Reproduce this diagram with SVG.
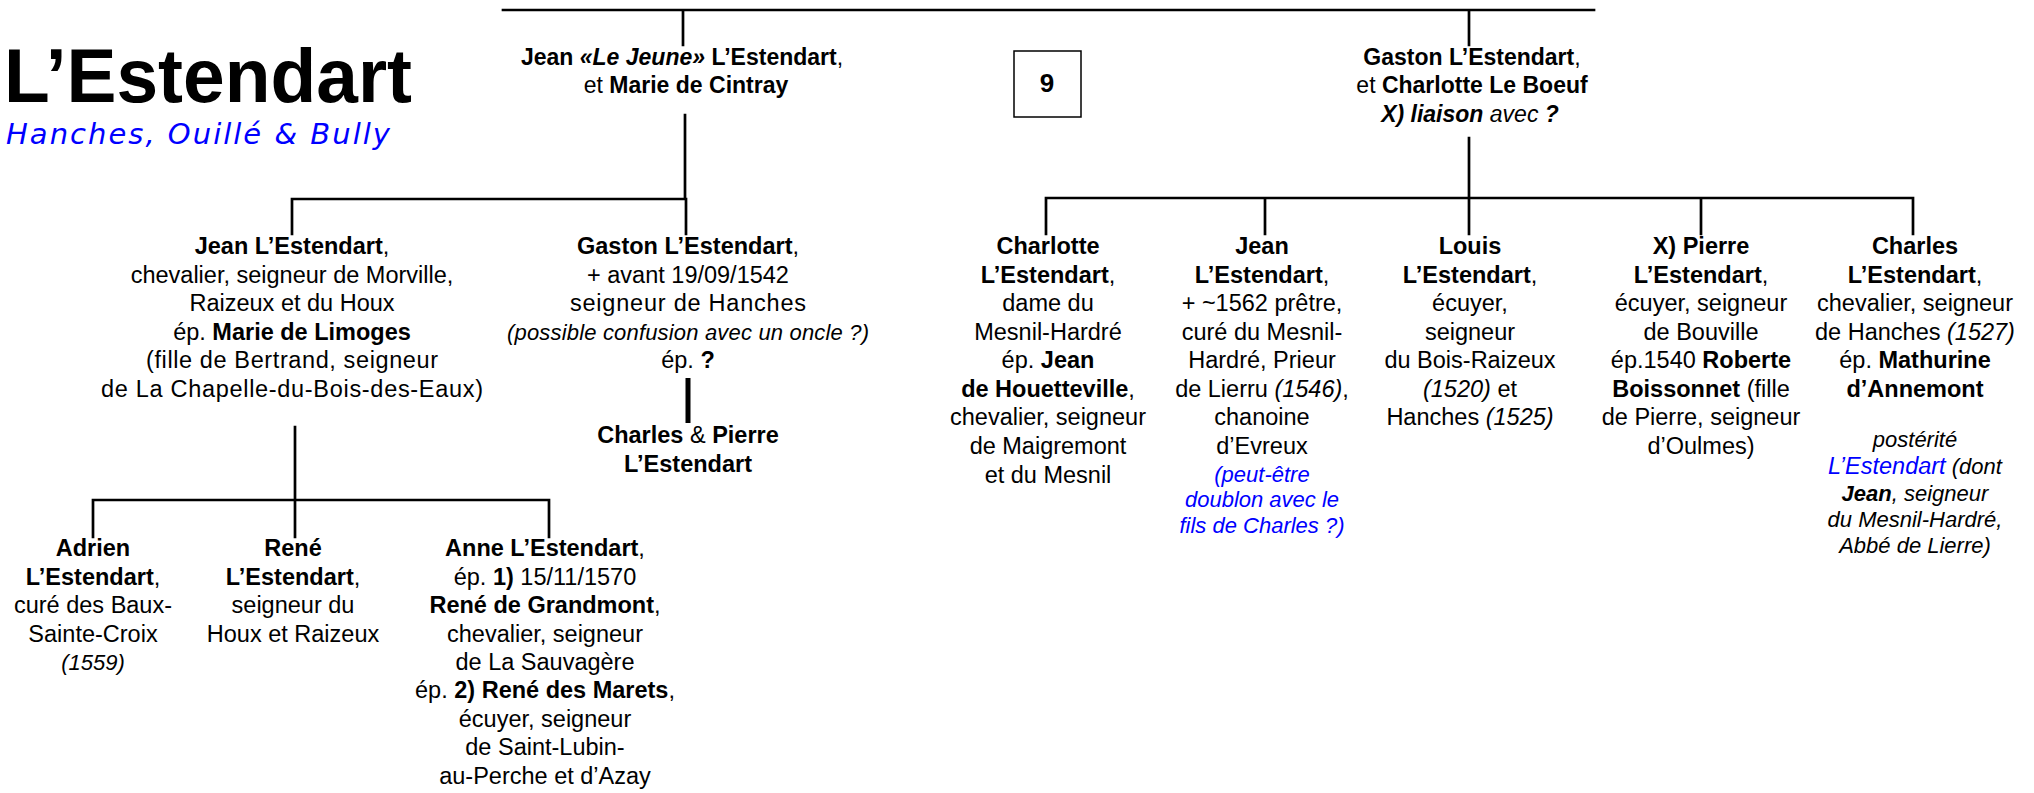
<svg xmlns="http://www.w3.org/2000/svg" width="2034" height="793" viewBox="0 0 2034 793">
<style>
text{font-family:"Liberation Sans",Arial,sans-serif;font-size:23.5px;fill:#000;text-anchor:middle}
.top{font-size:23px}
.b{font-weight:bold}
.i{font-style:italic}
.s{font-size:22px}
.blue{fill:#0000FF}
.ln{stroke:#000;stroke-width:2.7;fill:none;stroke-linecap:square}
.thick{stroke:#000;stroke-width:5;fill:none}
</style>
<rect width="2034" height="793" fill="#fff"/>
<g id="title">
<text x="4" y="102" style="font-size:76px;font-weight:bold;text-anchor:start" textLength="408" lengthAdjust="spacingAndGlyphs">L’Estendart</text>
<text x="6" y="144" class="blue" style="font-family:'DejaVu Sans',Verdana,sans-serif;font-size:29px;font-style:italic;text-anchor:start" textLength="384" lengthAdjust="spacing">Hanches, Ouillé &amp; Bully</text>
</g>
<g id="connectors">
<path class="ln" d="M503 10H1594M683 10V45M1469 10V45"/>
<path class="ln" d="M685 115V199M292 199H686M292 199V234M686 199V234"/>
<path class="ln" d="M1469 138V198M1046 198H1913M1046 198V234M1265 198V234M1469 198V234M1701 198V234M1913 198V234"/>
<path class="ln" d="M295 427V500M93 500H549M93 500V537M295 500V537M549 500V537"/>
<path class="thick" d="M688 378V423"/>
</g>
<g id="page-number">
<rect x="1014" y="51" width="67" height="66" fill="#fff" stroke="#000" stroke-width="1.5"/>
<text x="1047" y="92" class="b" style="font-size:26px">9</text>
</g>
<g id="node-jean-le-jeune">
<text x="682" y="65" class="top"><tspan class="b">Jean </tspan><tspan class="b i">«Le Jeune»</tspan><tspan class="b"> L’Estendart</tspan>,</text>
<text x="686" y="93" class="top">et <tspan class="b">Marie de Cintray</tspan></text>
</g>
<g id="node-gaston-top">
<text x="1472" y="65" class="top"><tspan class="b">Gaston L’Estendart</tspan>,</text>
<text x="1472" y="93" class="top">et <tspan class="b">Charlotte Le Boeuf</tspan></text>
<text x="1470" y="122" class="top i"><tspan class="b">X) liaison</tspan> avec <tspan class="b">?</tspan></text>
</g>
<g id="node-jean">
<text x="292" y="254"><tspan class="b">Jean L’Estendart</tspan>,</text>
<text x="292" y="283">chevalier, seigneur de Morville,</text>
<text x="292" y="311">Raizeux et du Houx</text>
<text x="292" y="340">ép. <tspan class="b">Marie de Limoges</tspan></text>
<text x="292" y="368" textLength="292" lengthAdjust="spacing">(fille de Bertrand, seigneur</text>
<text x="292" y="397" textLength="382" lengthAdjust="spacing">de La Chapelle-du-Bois-des-Eaux)</text>
</g>
<g id="node-gaston">
<text x="688" y="254"><tspan class="b">Gaston L’Estendart</tspan>,</text>
<text x="688" y="283">+ avant 19/09/1542</text>
<text x="688" y="311" textLength="236" lengthAdjust="spacing">seigneur de Hanches</text>
<text x="688" y="340" class="i s" textLength="362" lengthAdjust="spacing">(possible confusion avec un oncle ?)</text>
<text x="688" y="368">ép. <tspan class="b">?</tspan></text>
</g>
<g id="node-charles-pierre">
<text x="688" y="443"><tspan class="b">Charles</tspan> &amp; <tspan class="b">Pierre</tspan></text>
<text x="688" y="472" class="b">L’Estendart</text>
</g>
<g id="node-adrien">
<text x="93" y="556" class="b">Adrien</text>
<text x="93" y="585"><tspan class="b">L’Estendart</tspan>,</text>
<text x="93" y="613">curé des Baux-</text>
<text x="93" y="642">Sainte-Croix</text>
<text x="93" y="670" class="i s">(1559)</text>
</g>
<g id="node-rene">
<text x="293" y="556" class="b">René</text>
<text x="293" y="585"><tspan class="b">L’Estendart</tspan>,</text>
<text x="293" y="613">seigneur du</text>
<text x="293" y="642">Houx et Raizeux</text>
</g>
<g id="node-anne">
<text x="545" y="556"><tspan class="b">Anne L’Estendart</tspan>,</text>
<text x="545" y="585">ép. <tspan class="b">1)</tspan> 15/11/1570</text>
<text x="545" y="613"><tspan class="b">René de Grandmont</tspan>,</text>
<text x="545" y="642">chevalier, seigneur</text>
<text x="545" y="670">de La Sauvagère</text>
<text x="545" y="698">ép. <tspan class="b">2) René des Marets</tspan>,</text>
<text x="545" y="727">écuyer, seigneur</text>
<text x="545" y="755">de Saint-Lubin-</text>
<text x="545" y="784">au-Perche et d’Azay</text>
</g>
<g id="node-charlotte">
<text x="1048" y="254" class="b">Charlotte</text>
<text x="1048" y="283"><tspan class="b">L’Estendart</tspan>,</text>
<text x="1048" y="311">dame du</text>
<text x="1048" y="340">Mesnil-Hardré</text>
<text x="1048" y="368">ép. <tspan class="b">Jean</tspan></text>
<text x="1048" y="397"><tspan class="b">de Houetteville</tspan>,</text>
<text x="1048" y="425">chevalier, seigneur</text>
<text x="1048" y="454">de Maigremont</text>
<text x="1048" y="483">et du Mesnil</text>
</g>
<g id="node-jean-pretre">
<text x="1262" y="254" class="b">Jean</text>
<text x="1262" y="283"><tspan class="b">L’Estendart</tspan>,</text>
<text x="1262" y="311">+ ~1562 prêtre,</text>
<text x="1262" y="340">curé du Mesnil-</text>
<text x="1262" y="368">Hardré, Prieur</text>
<text x="1262" y="397">de Lierru <tspan class="i">(1546)</tspan>,</text>
<text x="1262" y="425">chanoine</text>
<text x="1262" y="454">d’Evreux</text>
<text x="1262" y="482" class="i s blue">(peut-être</text>
<text x="1262" y="507" class="i s blue">doublon avec le</text>
<text x="1262" y="533" class="i s blue">fils de Charles ?)</text>
</g>
<g id="node-louis">
<text x="1470" y="254" class="b">Louis</text>
<text x="1470" y="283"><tspan class="b">L’Estendart</tspan>,</text>
<text x="1470" y="311">écuyer,</text>
<text x="1470" y="340">seigneur</text>
<text x="1470" y="368">du Bois-Raizeux</text>
<text x="1470" y="397"><tspan class="i">(1520)</tspan> et</text>
<text x="1470" y="425">Hanches <tspan class="i">(1525)</tspan></text>
</g>
<g id="node-pierre">
<text x="1701" y="254" class="b">X) Pierre</text>
<text x="1701" y="283"><tspan class="b">L’Estendart</tspan>,</text>
<text x="1701" y="311">écuyer, seigneur</text>
<text x="1701" y="340">de Bouville</text>
<text x="1701" y="368">ép.1540 <tspan class="b">Roberte</tspan></text>
<text x="1701" y="397"><tspan class="b">Boissonnet</tspan> (fille</text>
<text x="1701" y="425">de Pierre, seigneur</text>
<text x="1701" y="454">d’Oulmes)</text>
</g>
<g id="node-charles">
<text x="1915" y="254" class="b">Charles</text>
<text x="1915" y="283"><tspan class="b">L’Estendart</tspan>,</text>
<text x="1915" y="311">chevalier, seigneur</text>
<text x="1915" y="340">de Hanches <tspan class="i">(1527)</tspan></text>
<text x="1915" y="368">ép. <tspan class="b">Mathurine</tspan></text>
<text x="1915" y="397" class="b">d’Annemont</text>
<text x="1915" y="447" class="i s">postérité</text>
<text x="1915" y="474" class="i s"><tspan class="blue" style="font-size:23.5px">L’Estendart</tspan> (dont</text>
<text x="1915" y="501" class="i s"><tspan class="b">Jean</tspan>, seigneur</text>
<text x="1915" y="527" class="i s">du Mesnil-Hardré,</text>
<text x="1915" y="553" class="i s">Abbé de Lierre)</text>
</g>
</svg>
